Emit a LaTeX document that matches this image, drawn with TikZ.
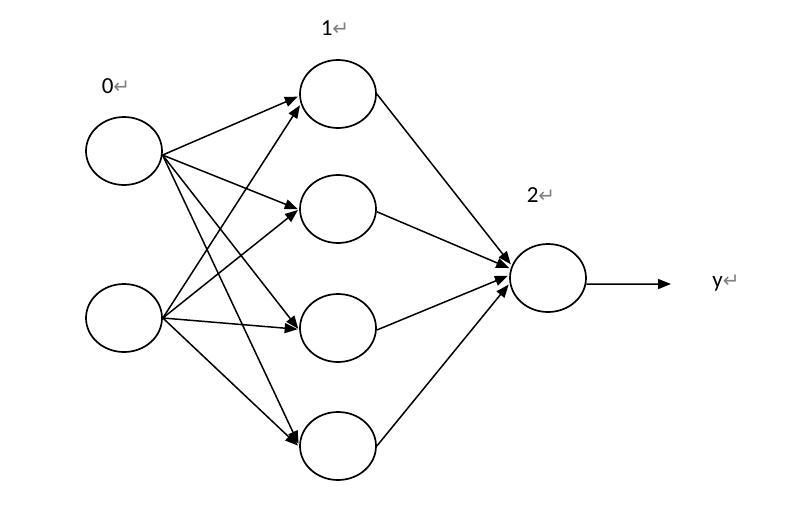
\documentclass[tikz,border=0pt]{standalone}
\usepackage{fontspec}
\setmainfont{Carlito}
\newfontfamily\dvfont{DejaVu Sans}
\usetikzlibrary{shapes.geometric,arrows.meta}
\tikzset{
  neuron/.style={draw, ellipse, line width=1.7pt, minimum width=76pt, minimum height=68pt, inner sep=0pt},
  conn/.style={line width=1.5pt, -{Triangle[length=13pt,width=10pt]}, shorten >=1.5pt},
  lbl/.style={font=\fontsize{23}{27}\selectfont, inner sep=0pt}
}
\newcommand{\pmark}{{\dvfont\fontsize{20}{22}\selectfont\color{gray}↵}}
\begin{document}
\begin{tikzpicture}[x=1pt,y=-1pt]
\useasboundingbox (0,0) rectangle (785,525);
\node[neuron] (a) at (124,151) {};
\node[neuron] (b) at (124,318) {};
\node[neuron] (h1) at (338,94) {};
\node[neuron] (h2) at (338,209) {};
\node[neuron] (h3) at (338,328) {};
\node[neuron] (h4) at (338,446) {};
\node[neuron] (o) at (548,278) {};
\coordinate (yend) at (671,284);

\node[lbl] (l0) at (116,86) {0\pmark};
\node[lbl] (l1) at (335,28) {1\pmark};
\node[lbl] (l2) at (541,195) {2\pmark};
\node[lbl] (ly) at (726,283) {y\pmark};

\foreach \t/\ang in {h1/183, h2/181, h3/183, h4/179}
  \draw[conn] (a.-6) -- (\t.\ang);
\foreach \t/\ang in {h1/195, h2/180, h3/182, h4/181}
  \draw[conn] (b.east) -- (\t.\ang);
\draw[conn] (h1.east) -- (o.161);
\draw[conn] (h2.-4) -- (o.166);
\draw[conn] (h3.-3) -- (o.176);
\draw[conn] (h4.east) -- (o.188);
\draw[conn, shorten >=0pt] (o.-9) -- (yend);
\end{tikzpicture}
\end{document}
